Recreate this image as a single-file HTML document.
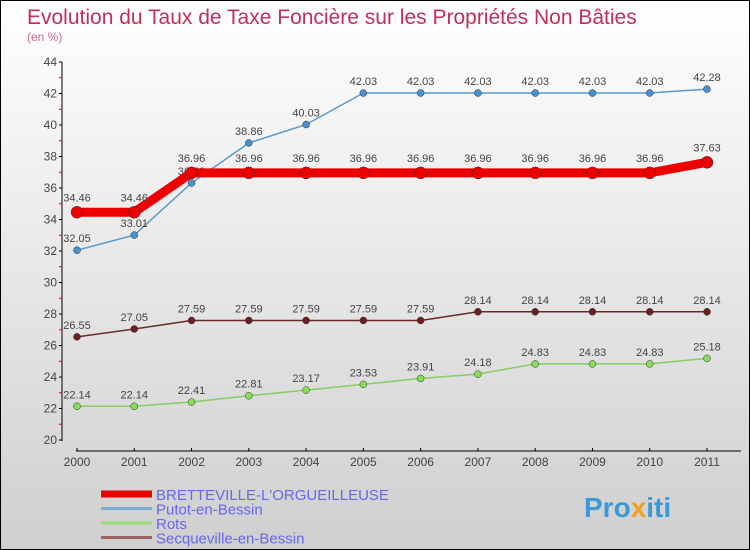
<!DOCTYPE html>
<html><head><meta charset="utf-8"><style>
body{margin:0}
#c{width:750px;height:550px;position:relative;box-sizing:border-box;border:1px solid #000;background:linear-gradient(#fff,#cfcfcf);font-family:"Liberation Sans",sans-serif;overflow:hidden}
</style></head><body>
<div id="c">
<svg width="750" height="550" id="s">
<text x="26" y="23" font-size="21" fill="#c0305a">Evolution du Taux de Taxe Foncière sur les Propriétés Non Bâties</text>
<text x="26" y="40" font-size="12" fill="#d06a8a">(en %)</text>
<g id="axes"></g><g id="series"></g><g id="legend"></g>
<text x="583" y="516" font-size="28" font-weight="bold" fill="#3a9ad9">Pro<tspan fill="#f0a020">x</tspan>iti</text>
</svg></div>
<script>
const years=[2000,2001,2002,2003,2004,2005,2006,2007,2008,2009,2010,2011];
const yTicks=[20,22,24,26,28,30,32,34,36,38,40,42,44];
const bret=[34.46,34.46,36.96,36.96,36.96,36.96,36.96,36.96,36.96,36.96,36.96,37.63];
const putot=[32.05,33.01,36.32,38.86,40.03,42.03,42.03,42.03,42.03,42.03,42.03,42.28];
const rots=[22.14,22.14,22.41,22.81,23.17,23.53,23.91,24.18,24.83,24.83,24.83,25.18];
const secq=[26.55,27.05,27.59,27.59,27.59,27.59,27.59,28.14,28.14,28.14,28.14,28.14];
const NS='http://www.w3.org/2000/svg';
const X=i=>76+i*(630/11);
const Y=v=>439-(v-20)*(378/24);
function mk(t,a,p){const e=document.createElementNS(NS,t);for(const k in a)e.setAttribute(k,a[k]);p.appendChild(e);return e;}
const ax=document.getElementById('axes');
let l=mk('line',{x1:61,y1:61,x2:61,y2:440,stroke:'#000'},ax);


l=mk('line',{x1:75,y1:450,x2:740,y2:450,stroke:'#000'},ax);


yTicks.forEach((v,i)=>{
 mk('line',{x1:58,x2:61,y1:Y(v),y2:Y(v),stroke:'#000'},ax);
 if(i<yTicks.length-1)mk('line',{x1:58,x2:61,y1:Y(v+1),y2:Y(v+1),stroke:'#d00'},ax);
 const t=mk('text',{x:56,y:Y(v)+4,'font-size':12,fill:'#444','text-anchor':'end'},ax);t.textContent=v;
 
 
});
years.forEach((y,i)=>{
 mk('line',{x1:X(i),x2:X(i),y1:447,y2:450,stroke:'#000'},ax);
 const t=mk('text',{x:X(i),y:465,'font-size':12,fill:'#444','text-anchor':'middle'},ax);t.textContent=y;
 
 
});
const sg=document.getElementById('series');
function draw(vals,color,w,r,dot,name,lblOff){
 const g=mk('g',{},sg);
 
 
 const p=mk('polyline',{points:vals.map((v,i)=>X(i)+','+Y(v)).join(' '),fill:'none',stroke:color,'stroke-width':w,'stroke-linejoin':'round'},g);
 
 
 vals.forEach((v,i)=>{
  const c=mk('circle',{cx:X(i),cy:Y(v),r:r,fill:dot,stroke:'#333','stroke-width':0.5},g);
  
  
  const t=mk('text',{x:X(i),y:Y(v)+lblOff,'font-size':11,fill:'#444','text-anchor':'middle'},g);t.textContent=v.toFixed(2);
  
  
 });
}
draw(rots,'#88cc66',1.5,3.5,'#88dd55','rots',-8);
draw(secq,'#6a2a2a',1.5,3.5,'#6a2020','secqueville',-8);
draw(putot,'#5a9acc',1.5,3.5,'#4a90d0','putot',-8);
draw(bret,'#ee0000',9,6,'#ee0000','bretteville',-11);
const lg=document.getElementById('legend');
const names=['BRETTEVILLE-L\'ORGUEILLEUSE','Putot-en-Bessin','Rots','Secqueville-en-Bessin'];
const cols=['#ee0000','#7aaed0','#99dd77','#9a6464'];
const ws=[7,3,3,3];
names.forEach((n,i)=>{
 const y=493+i*14.5;
 const ln=mk('line',{x1:100,x2:151,y1:y,y2:y,stroke:cols[i],'stroke-width':ws[i]},lg);
 
 
 const t=mk('text',{x:155,y:y+6,'font-size':15,fill:'#6666ee'},lg);t.textContent=n;
 
 
});
</script>
</body></html>
